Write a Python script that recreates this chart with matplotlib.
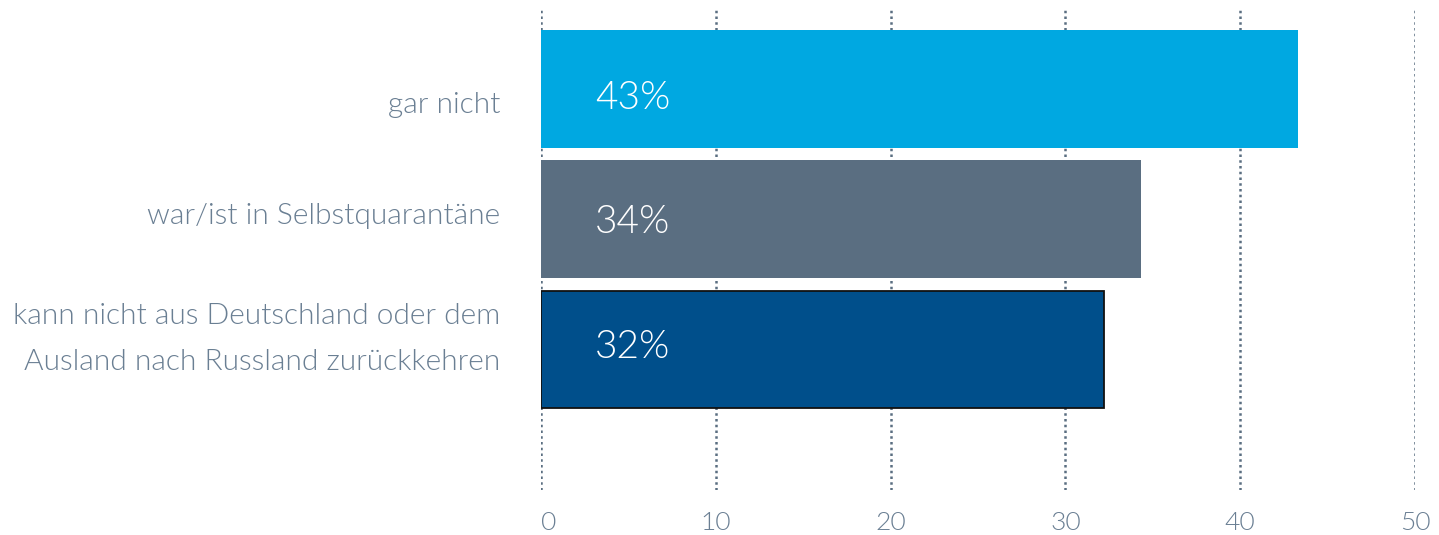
import matplotlib.pyplot as plt
from matplotlib.transforms import ScaledTranslation

plt.rcParams["font.family"] = ["Lato", "DejaVu Sans"]
plt.rcParams["font.weight"] = 300

categories = ["gar nicht", "war/ist in Selbstquarantäne",
              "kann nicht aus Deutschland oder dem\nAusland nach Russland zurückkehren"]
values = [43.3, 34.3, 32.2]
value_labels = ["43%", "34%", "32%"]
colors = ["#00a8e1", "#5a6e81", "#004f8b"]
edges = ["none", "none", "#111111"]
xticks = [0, 10, 20, 30, 40, 50]

text_col = "#6a7f93"
grid_col = "#5a6e81"

fig = plt.figure(figsize=(14.39, 5.35), dpi=100)
ax = fig.add_axes([541 / 1439, 45 / 535, 874 / 1439, 480 / 535])

y = range(len(categories))
ax.barh(y, values, height=0.905, color=colors, edgecolor=edges, linewidth=1.3, zorder=2)

# value labels, nudged (points) like in the original
val_shift = [-6.5, -2, 1.5]
for yi, lab, dy in zip(y, value_labels, val_shift):
    ax.annotate(lab, (3.1, yi), xytext=(0, dy), textcoords="offset points",
                color="white", fontsize=28, va="center", ha="left",
                fontweight=300, zorder=3)

ax.set_xlim(0, 50)
ax.set_ylim(3.079, -0.607)
ax.set_xticks(xticks)
ax.set_yticks(list(y))
ax.set_yticklabels(categories, fontsize=21.5, color=text_col, fontweight=300,
                   linespacing=1.95)
ax.tick_params(axis="y", length=0, pad=29.5)
ax.tick_params(axis="x", length=0, pad=15, labelsize=19, labelcolor=text_col)
xl = ax.get_xticklabels()
for lab in xl:
    lab.set_fontweight(300)
xl[0].set_horizontalalignment("left")

# labels sit a little off the bar centres in the original
shifts = [-10, 4, 16.5]
for lab, dy in zip(ax.get_yticklabels(), shifts):
    lab.set_horizontalalignment("right")
    lab.set_transform(lab.get_transform() + ScaledTranslation(0, dy / 72, fig.dpi_scale_trans))

ax.grid(axis="x", color=grid_col, linestyle=(0, (1, 1.3)), linewidth=1.8, zorder=1)
ax.set_axisbelow(True)
for s in ax.spines.values():
    s.set_visible(False)

fig.savefig("out.png", dpi=100)
